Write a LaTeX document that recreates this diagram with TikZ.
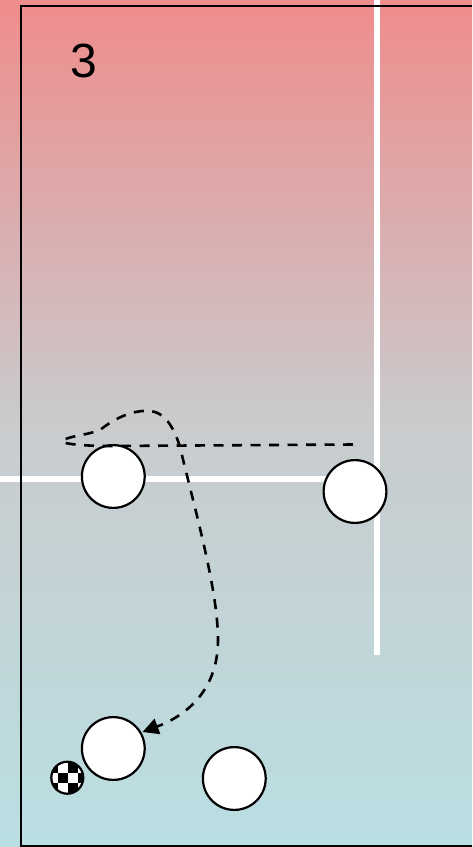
\documentclass[tikz,border=0pt]{standalone}
\usepackage{fontspec}
\setmainfont{Liberation Sans}
\usetikzlibrary{arrows.meta}
\definecolor{topc}{HTML}{EF8C8C}
\definecolor{midc}{HTML}{C9CBCD}
\definecolor{botc}{HTML}{BADFE3}
\tikzset{
  player/.style={circle,draw=black,line width=2.2pt,fill=white,minimum size=62.8pt,inner sep=0pt},
  court/.style={white,line width=6pt},
  edgeline/.style={black,line width=2pt},
  run/.style={black,line width=2.6pt,dash pattern=on 10pt off 8.5pt},
}
\begin{document}
\begin{tikzpicture}[x=1pt,y=-1pt]
\useasboundingbox (0,0) rectangle (472,847);
\shade[top color=topc,bottom color=botc,middle color=midc] (0,0) rectangle (472,847);
\coordinate (hl) at (0,479);
\coordinate (hr) at (355,479);
\coordinate (vt) at (377,0);
\coordinate (vb) at (377,655);
\draw[court] (hl) -- (hr);
\draw[court] (vt) -- (vb);
\coordinate (bl) at (20.5,846);
\coordinate (tl) at (20.5,5.5);
\coordinate (tr) at (472,5.5);
\coordinate (br) at (472,846);
\draw[edgeline] (br) -- (bl) -- (tl) -- (tr);
\node[font=\fontsize{48}{48}\selectfont] (num) at (83.5,61) {3};
\node[player] (p1) at (113.3,476.5) {};
\node[player] (p2) at (355,491.5) {};
\node[player] (p3) at (113.3,748.5) {};
\node[player] (p4) at (234.3,778.5) {};
\coordinate (ballc) at (67.3,777.7);
\begin{scope}
\clip (ballc) circle (16);
\fill[white] (48,760) rectangle (88,795);
\fill[black] (48.3,762.6) rectangle (58.3,772.6);
\fill[black] (68,762.6) rectangle (78,772.6);
\fill[black] (58.3,772.6) rectangle (68,782.6);
\fill[black] (78,772.6) rectangle (88,782.6);
\fill[black] (48.3,782.6) rectangle (58.3,792.6);
\fill[black] (68,782.6) rectangle (78,792.6);
\end{scope}
\node[circle,draw=black,line width=2.2pt,minimum size=32pt,inner sep=0pt] (ball) at (ballc) {};
\coordinate (s) at (353,444.5);
\coordinate (a) at (110,446);
\coordinate (b) at (62,441);
\coordinate (c) at (100,430);
\coordinate (d) at (148,411);
\coordinate (e) at (180,447);
\coordinate (f) at (218,640);
\coordinate (g) at (142.5,732);
\draw[run,-{Triangle[length=16pt,width=16pt,sep=0pt]}] (s) -- (a)
  .. controls (85,446) and (62,444) .. (b)
  .. controls (68,436) and (88,435) .. (c)
  .. controls (115,418) and (133,410) .. (d)
  .. controls (165,411) and (174,428) .. (e)
  .. controls (195,510) and (218,590) .. (f)
  .. controls (218,695) and (180,718) .. (g);
\end{tikzpicture}
\end{document}
